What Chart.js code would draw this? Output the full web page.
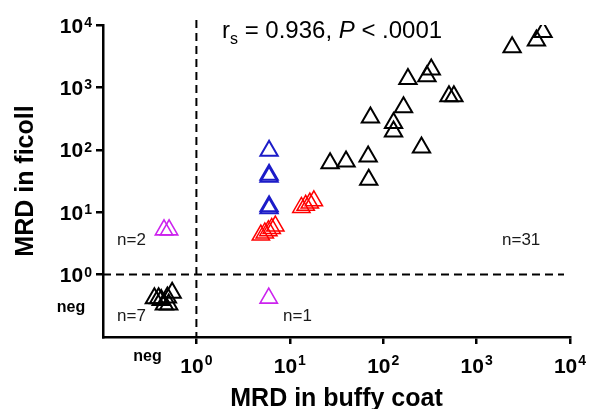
<!DOCTYPE html>
<html>
<head>
<meta charset="utf-8">
<script src="https://cdn.jsdelivr.net/npm/chart.js@4"></script>
<style>
  body { margin: 0; background: #fff; }
  canvas { display: block; }
</style>
</head>
<body>
<canvas id="mrdChart" width="595" height="409"></canvas>
<script>
// values (MRD, log-log)
const blackX = [5140, 4370, 2400, 327, 294, 184, 506, 571, 165, 73, 129, 129, 257, 27, 40, 69, 70];
const blackY = [7750, 5630, 4390, 1930, 1510, 1365, 720, 720, 480, 330, 268, 197, 109, 61, 65, 78, 33];
const blueX = [6, 6, 6, 6, 6];
const blueY = [97, 40, 37, 12.5, 11.6];
const redX = [4.9, 5.4, 5.9, 6.4, 7.0, 13.3, 14.8, 16.4, 18.1];
const redY = [4.3, 4.65, 5.05, 5.5, 6.0, 11.9, 12.9, 14.0, 15.2];
const magentaX = [0.45, 0.51, 5.95];
const magentaY = [5.2, 5.2, 0.42];
const negX = [0.355, 0.394, 0.42, 0.454, 0.505, 0.489, 0.55];
const negY = [0.417, 0.417, 0.39, 0.333, 0.333, 0.428, 0.514];

// tick labels
const xDecades = [1, 10, 100, 1000, 10000];
const yDecades = [1, 10, 100, 1000, 10000];
const negLabel = "neg";
const negValue = 0.3;
const cutoff = 1;

const FONT = "'Liberation Sans', Arial, sans-serif";

function pts(xs, ys) {
  return xs.map((v, i) => ({ x: v, y: ys[i] }));
}

function series(xs, ys, color, width) {
  return {
    data: pts(xs, ys),
    pointStyle: "triangle",
    pointRadius: 10,
    pointHoverRadius: 10,
    borderColor: color,
    backgroundColor: "rgba(0,0,0,0)",
    borderWidth: width,
  };
}

// draws "10" with a raised exponent
function drawPower(ctx, value, x, y, mode) {
  const exp = String(Math.round(Math.log10(value)));
  ctx.font = "bold 21px " + FONT;
  const w10 = ctx.measureText("10").width;
  ctx.font = "bold 14px " + FONT;
  const we = ctx.measureText(exp).width;
  let start;
  let base;
  let expBase;
  if (mode === "x") {
    start = x - (w10 + we + 1) / 2;
    base = y + 36;
    expBase = y + 28;
  } else {
    start = x - 11 - (w10 + we + 1);
    base = y + 7.5;
    expBase = y + 2;
  }
  ctx.textAlign = "left";
  ctx.textBaseline = "alphabetic";
  ctx.font = "bold 21px " + FONT;
  ctx.fillText("10", start, base);
  ctx.font = "bold 14px " + FONT;
  ctx.fillText(exp, start + w10 + 1, expBase);
}

const overlay = {
  id: "overlay",
  beforeDatasetsDraw(chart) {
    const { ctx, chartArea, scales } = chart;
    const cx = scales.x.getPixelForValue(cutoff);
    const cy = scales.y.getPixelForValue(cutoff);
    ctx.save();
    ctx.strokeStyle = "#000";
    ctx.lineWidth = 2;
    ctx.setLineDash([8, 5]);
    ctx.beginPath();
    ctx.moveTo(cx, chartArea.top - 5);
    ctx.lineTo(cx, chartArea.bottom);
    ctx.stroke();
    ctx.beginPath();
    ctx.moveTo(chartArea.left, cy);
    ctx.lineTo(chartArea.right - 6, cy);
    ctx.stroke();
    ctx.restore();
  },
  afterDraw(chart) {
    const { ctx, chartArea, scales } = chart;
    ctx.save();
    ctx.fillStyle = "#000";

    // tick labels
    xDecades.forEach((v) => drawPower(ctx, v, scales.x.getPixelForValue(v), chartArea.bottom, "x"));
    yDecades.forEach((v) => drawPower(ctx, v, chartArea.left, scales.y.getPixelForValue(v), "y"));

    ctx.font = "bold 16px " + FONT;
    ctx.textAlign = "center";
    ctx.fillText(negLabel, scales.x.getPixelForValue(negValue), chartArea.bottom + 24);
    ctx.fillText(negLabel, 71, scales.y.getPixelForValue(negValue) + 5);

    // axis titles
    ctx.font = "bold 25px " + FONT;
    ctx.fillText("MRD in buffy coat", (chartArea.left + chartArea.right) / 2, 406);
    ctx.save();
    ctx.translate(33, (chartArea.top + chartArea.bottom) / 2);
    ctx.rotate(-Math.PI / 2);
    ctx.fillText("MRD in ficoll", 0, 0);
    ctx.restore();

    // quadrant counts
    ctx.fillStyle = "#1a1a1a";
    ctx.font = "17px " + FONT;
    ctx.textAlign = "left";
    ctx.fillText("n=2", 117, 245);
    ctx.fillText("n=7", 117, 321);
    ctx.fillText("n=1", 283, 321);
    ctx.fillText("n=31", 502, 245);

    // correlation
    ctx.fillStyle = "#000";
    let tx = 222;
    ctx.font = "24px " + FONT;
    ctx.fillText("r", tx, 38);
    tx += ctx.measureText("r").width;
    ctx.font = "16px " + FONT;
    ctx.fillText("s", tx, 44);
    tx += ctx.measureText("s").width;
    ctx.font = "24px " + FONT;
    ctx.fillText(" = 0.936, ", tx, 38);
    tx += ctx.measureText(" = 0.936, ").width;
    ctx.font = "italic 24px " + FONT;
    ctx.fillText("P", tx, 38);
    tx += ctx.measureText("P").width;
    ctx.font = "24px " + FONT;
    ctx.fillText(" < .0001", tx, 38);
    ctx.restore();
  },
};

function decadeTicks(list) {
  return (scale) => {
    scale.ticks = list.map((v) => ({ value: v }));
  };
}

const axisStyle = {
  type: "logarithmic",
  min: 0.1,
  max: 10000,
  ticks: { display: false },
  grid: {
    display: true,
    drawOnChartArea: false,
    drawTicks: true,
    tickLength: 7,
    color: "#000",
    lineWidth: 2.5,
  },
  border: { display: true, color: "#000", width: 2.5 },
  title: { display: false },
};

new Chart(document.getElementById("mrdChart").getContext("2d"), {
  type: "scatter",
  data: {
    datasets: [
      series(negX, negY, "#000", 2),
      series(blackX, blackY, "#000", 2),
      series(magentaX, magentaY, "#cc22ee", 1.6),
      series(blueX, blueY, "#1c1cc8", 2),
      series(redX, redY, "#ff0000", 1.5),
    ],
  },
  options: {
    responsive: false,
    animation: false,
    layout: { padding: { left: 96, right: 25, top: 25, bottom: 65 } },
    plugins: { legend: { display: false }, tooltip: { enabled: false } },
    scales: {
      x: Object.assign({}, axisStyle, { position: "bottom", afterBuildTicks: decadeTicks(xDecades) }),
      y: Object.assign({}, axisStyle, { position: "left", afterBuildTicks: decadeTicks(yDecades) }),
    },
  },
  plugins: [overlay],
});
</script>
</body>
</html>
